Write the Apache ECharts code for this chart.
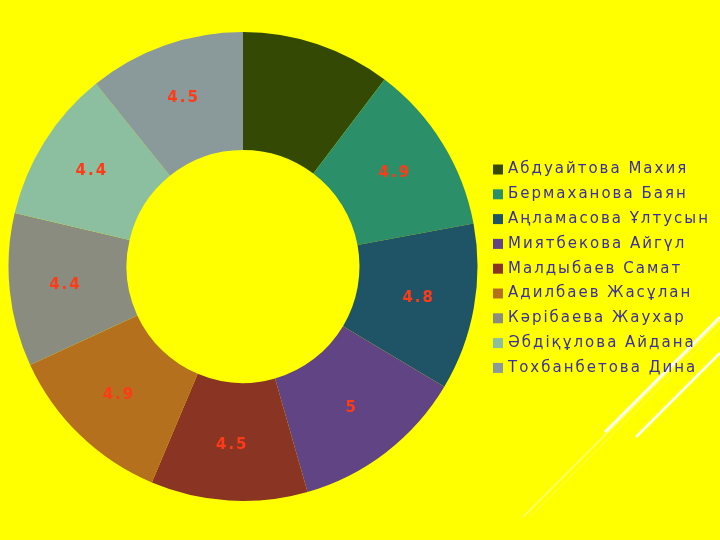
<!DOCTYPE html>
<html>
<head>
<meta charset="utf-8">
<script src="https://cdn.jsdelivr.net/npm/echarts@6/dist/echarts.min.js"></script>
<style>
html,body{margin:0;padding:0;background:#ffff00;}
#main{width:720px;height:540px;}
</style>
</head>
<body>
<div id="main"></div>
<script>
const names = ['Абдуайтова Махия','Бермаханова Баян','Аңламасова Ұлтусын','Миятбекова Айгүл','Малдыбаев Самат','Адилбаев Жасұлан','Кәрібаева Жаухар','Әбдіқұлова Айдана','Тохбанбетова Дина'];
const values = [4.3, 4.9, 4.8, 5, 4.5, 4.9, 4.4, 4.4, 4.5];
const showLabel = [false, true, true, true, true, true, true, true, true];
const colors = ['#344a04','#2b8f69','#1f5467','#604483','#8a3424','#b5701e','#8a8c7f','#8bbf9f','#8a9a9b'];

// wider letter spacing for canvas text, as in the reference
(function(){
  const proto = CanvasRenderingContext2D.prototype;
  const orig = proto.fillText;
  proto.fillText = function(){
    if ('letterSpacing' in this) this.letterSpacing = '2px';
    return orig.apply(this, arguments);
  };
})();

const chart = echarts.init(document.getElementById('main'));
chart.setOption({
  backgroundColor: '#ffff00',
  animation: false,
  color: colors,
  legend: {
    orient: 'vertical',
    left: 488,
    top: 157,
    icon: 'rect',
    itemWidth: 10,
    itemHeight: 10,
    itemGap: 9.8,
    textStyle: { color: '#3a2fa0', fontSize: 15, fontFamily: 'DejaVu Sans', lineHeight: 15 },
    data: names
  },
  graphic: [
    { type: 'line', shape: { x1: 523, y1: 517, x2: 720, y2: 320 }, style: { stroke: 'rgba(255,255,255,0.5)', lineWidth: 1.5 } },
    { type: 'line', shape: { x1: 530, y1: 517, x2: 720, y2: 327 }, style: { stroke: 'rgba(255,255,255,0.35)', lineWidth: 1 } },
    { type: 'line', shape: { x1: 605, y1: 432, x2: 720, y2: 317 }, style: { stroke: '#ffffff', lineWidth: 2.5 } },
    { type: 'line', shape: { x1: 636, y1: 437, x2: 720, y2: 353 }, style: { stroke: '#ffffff', lineWidth: 2.5 } }
  ],
  series: [{
    type: 'pie',
    center: [243, 266.5],
    radius: [116.5, 234.5],
    startAngle: 90,
    clockwise: true,
    avoidLabelOverlap: false,
    itemStyle: { borderWidth: 0 },
    label: {
      show: true,
      position: 'inside',
      formatter: '{c}',
      color: '#ff3b17',
      fontWeight: 'bold',
      fontSize: 15,
      fontFamily: 'DejaVu Sans'
    },
    labelLine: { show: false },
    emphasis: { disabled: true },
    data: names.map((n, i) => ({ name: n, value: values[i], label: { show: showLabel[i] } }))
  }]
});
</script>
</body>
</html>
